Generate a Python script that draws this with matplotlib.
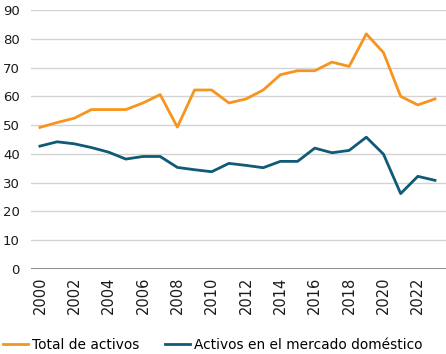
import matplotlib
matplotlib.use('Agg')
import matplotlib.pyplot as plt

plt.rcParams['font.family'] = ['DejaVu Sans']

# datos
years = list(range(2000, 2024))
total_activos = [49.2, 50.9, 52.4, 55.4, 55.4, 55.4, 57.7, 60.6, 49.3, 62.2, 62.2, 57.7,
                 59.1, 62.2, 67.5, 68.9, 68.9, 71.9, 70.4, 81.7, 75.2, 60.0, 57.0, 59.1]
activos_domestico = [42.7, 44.2, 43.5, 42.2, 40.6, 38.2, 39.1, 39.1, 35.3, 34.5, 33.8, 36.7,
                     36.0, 35.2, 37.4, 37.4, 42.0, 40.4, 41.2, 45.8, 39.9, 26.2, 32.2, 30.8]
xtick_years = list(range(2000, 2024, 2))
ytick_vals = list(range(0, 100, 10))

fig = plt.figure(figsize=(4.46, 3.54), dpi=100)
ax = fig.add_axes([31 / 446, 85 / 354, 415 / 446, 259 / 354])

ax.plot(years, total_activos, color='#F7941D', lw=2, label='Total de activos')
ax.plot(years, activos_domestico, color='#0F5A75', lw=2, label='Activos en el mercado doméstico')

ax.set_xlim(1999.48, 2023.64)
ax.set_ylim(0, 90)
ax.set_yticks(ytick_vals)
ax.set_xticks(xtick_years)
ax.set_xticklabels([str(y) for y in xtick_years], rotation=90)
ax.tick_params(axis='both', length=0, colors='#1a1a1a')
ax.tick_params(axis='y', pad=8, labelsize=9.5)
ax.tick_params(axis='x', pad=5.5, labelsize=10.5)

for v in ytick_vals[1:]:
    ax.axhline(v, color='#d3d3d3', lw=1, zorder=0)
ax.axhline(0, color='#808080', lw=2, zorder=1)

for s in ax.spines.values():
    s.set_visible(False)

fig.legend(loc='center left', bbox_to_anchor=(3 / 446, 9 / 354), ncol=2, frameon=False,
           fontsize=9.9, handlelength=1.8, handletextpad=0.3, columnspacing=1.9,
           borderpad=0, borderaxespad=0)

fig.savefig('out.png', dpi=100)
